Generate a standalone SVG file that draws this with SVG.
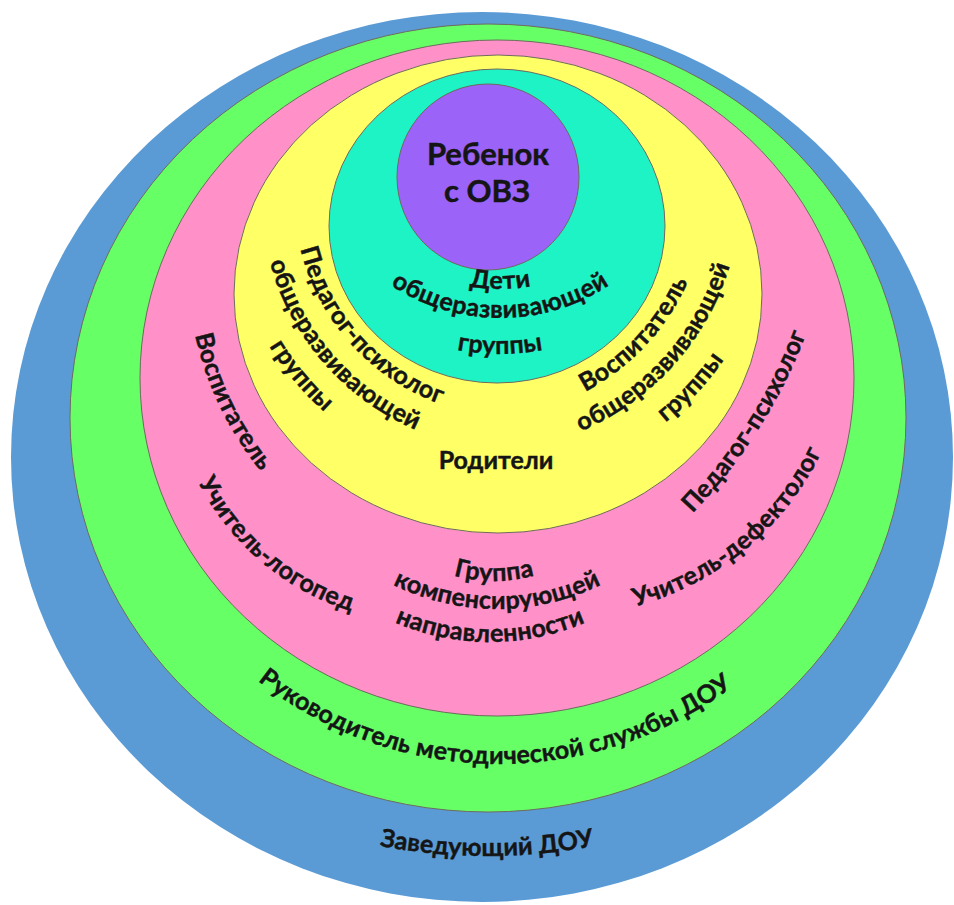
<svg xmlns="http://www.w3.org/2000/svg" width="954" height="905" viewBox="0 0 954 905">
<style>
.ring{stroke:#6f6a5f;stroke-width:1}
.t{font-family:Lato,"Liberation Sans",sans-serif;font-weight:bold;font-size:25px;fill:#151515;stroke:#151515;stroke-width:0.45;dominant-baseline:middle}
</style>
<defs>
<path id="pTeal1" d="M418.5,261.2 A163,163 0 0 0 581.5,261.2"/>
<path id="pTeal2" d="M342.7,230.1 A192,192 0 0 0 657.3,230.1"/>
<path id="pTeal3" d="M386,317.4 A228,228 0 0 0 614,317.4"/>
<path id="pYL1" d="M300.3,184.8 A215,215 0 0 0 503.8,410.7"/>
<path id="pYL2" d="M267.6,178.7 A248,248 0 0 0 497.7,443.4"/>
<path id="pYL3" d="M237.3,245 A282,282 0 0 0 418.6,461"/>
<path id="pYR1" d="M506.1,410.3 A222,222 0 0 0 700.7,201.6"/>
<path id="pYR2" d="M492.4,445.6 A256,256 0 0 0 734.6,176.6"/>
<path id="pYR3" d="M588.4,460.7 A292,292 0 0 0 756.7,280.2"/>
<path id="pPL1" d="M193,267.5 A325,325 0 0 0 312.6,514.8"/>
<path id="pPL2" d="M179.7,407.9 A252,252 0 0 0 427.1,617"/>
<path id="pPC1" d="M408,547.9 A150,150 0 0 0 580,547.9"/>
<path id="pPC2" d="M349.8,549.4 A229,229 0 0 0 644.2,549.4"/>
<path id="pPC3" d="M354.6,593.3 A236,236 0 0 0 625.4,593.3"/>
<path id="pPR1" d="M665.4,531.5 A525,525 0 0 0 811,302"/>
<path id="pPR2" d="M583.7,609.1 A283,283 0 0 0 833.8,402.2"/>
<path id="pG" d="M223.5,641.9 A385,385 0 0 0 767.9,648.5"/>
<path id="pB" d="M339.2,830.5 A571,571 0 0 0 634.8,830.5"/>
</defs>
<rect width="954" height="905" fill="#ffffff"/>
<g id="blue"><ellipse cx="482" cy="457" rx="471" ry="445" fill="#5b9bd5"/></g>
<g id="green"><ellipse class="ring" cx="488" cy="418" rx="418" ry="394" fill="#66ff66"/></g>
<g id="pink"><ellipse class="ring" cx="497" cy="378" rx="357" ry="338" fill="#ff91c8"/></g>
<g id="yellow"><ellipse class="ring" cx="498" cy="294" rx="264" ry="239" fill="#ffff66"/></g>
<g id="teal"><ellipse class="ring" cx="497" cy="226" rx="168" ry="157" fill="#1ef3c6"/></g>
<g id="purple"><ellipse class="ring" cx="488" cy="177" rx="91" ry="93" fill="#9b63f8"/></g>
<g id="labels">
<text class="t" x="488" y="157" text-anchor="middle" style="font-size:31px">Ребенок</text>
<text class="t" x="487" y="194" text-anchor="middle" style="font-size:31px">с ОВЗ</text>
<text class="t"><textPath href="#pTeal1" startOffset="50%" text-anchor="middle">Дети</textPath></text>
<text class="t"><textPath href="#pTeal2" startOffset="50%" text-anchor="middle">общеразвивающей</textPath></text>
<text class="t"><textPath href="#pTeal3" startOffset="50%" text-anchor="middle">группы</textPath></text>
<text class="t"><textPath href="#pYL1" startOffset="50%" text-anchor="middle">Педагог-психолог</textPath></text>
<text class="t"><textPath href="#pYL2" startOffset="50%" text-anchor="middle">общеразвивающей</textPath></text>
<text class="t"><textPath href="#pYL3" startOffset="50%" text-anchor="middle">группы</textPath></text>
<text class="t"><textPath href="#pYR1" startOffset="50%" text-anchor="middle">Воспитатель</textPath></text>
<text class="t"><textPath href="#pYR2" startOffset="50%" text-anchor="middle">общеразвивающей</textPath></text>
<text class="t"><textPath href="#pYR3" startOffset="50%" text-anchor="middle">группы</textPath></text>
<text class="t" x="496" y="463" text-anchor="middle">Родители</text>
<text class="t"><textPath href="#pPL1" startOffset="50%" text-anchor="middle">Воспитатель</textPath></text>
<text class="t"><textPath href="#pPL2" startOffset="50%" text-anchor="middle">Учитель-логопед</textPath></text>
<text class="t"><textPath href="#pPC1" startOffset="50%" text-anchor="middle">Группа</textPath></text>
<text class="t"><textPath href="#pPC2" startOffset="50%" text-anchor="middle">компенсирующей</textPath></text>
<text class="t"><textPath href="#pPC3" startOffset="50%" text-anchor="middle">направленности</textPath></text>
<text class="t"><textPath href="#pPR1" startOffset="50%" text-anchor="middle">Педагог-психолог</textPath></text>
<text class="t"><textPath href="#pPR2" startOffset="50%" text-anchor="middle">Учитель-дефектолог</textPath></text>
<text class="t"><textPath href="#pG" startOffset="50%" text-anchor="middle">Руководитель методической службы ДОУ</textPath></text>
<text class="t"><textPath href="#pB" startOffset="50%" text-anchor="middle">Заведующий ДОУ</textPath></text>
</g>
<g id="connectors"></g>
</svg>
